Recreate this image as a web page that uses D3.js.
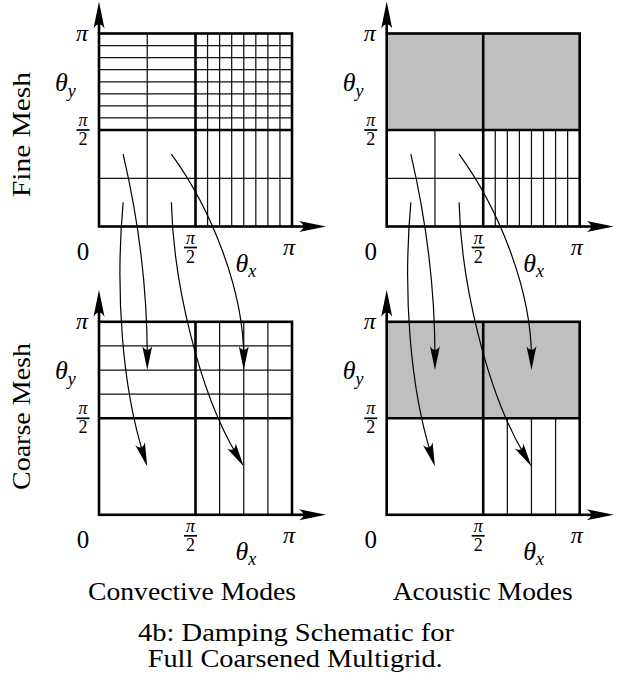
<!DOCTYPE html>
<html>
<head>
<meta charset="utf-8">
<script src="https://cdn.jsdelivr.net/npm/d3@7"></script>
<style>
  body { margin: 0; background: #fff; }
</style>
</head>
<body>
<svg id="fig" width="621" height="683"></svg>
<script>
// Mesh lines, in units of pi
const halfLine = [0.5];
const quarterLines = [0.25];
const fineLines = [0.5625, 0.625, 0.6875, 0.75, 0.8125, 0.875, 0.9375];
const coarseLines = [0.625, 0.75, 0.875];

const columnTitles = ["Convective Modes", "Acoustic Modes"];
const rowTitles = ["Fine Mesh", "Coarse Mesh"];
const captionLines = ["4b: Damping Schematic for", "Full Coarsened Multigrid."];

// A fine-mesh mode (θx/π, θy/π) is seen on the coarse mesh at twice the frequency
const modeFrom = [[0.125, 0.375], [0.125, 0.125], [0.375, 0.125], [0.375, 0.375]];
const modeTo   = [[0.25, 0.75],   [0.25, 0.25],   [0.75, 0.25],   [0.75, 0.75]];
// Bezier handles (px) leaving the start and entering the end of each arrow
const handleStart = [[14, 60], [-8, 90], [2, 80], [40, 55]];
const handleEnd   = [[0, -90], [-25, -80], [-45, -75], [0, -80]];

// Layout
const size = 193;
const colLeft = [99, 386.7];
const rowTop = [33.5, 321.8];
const thick = 2.6, thin = 1.25;
const FONT = "'Liberation Serif', serif";

const svg = d3.select("#fig");

function panelScales(r, c) {
  const L = colLeft[c], T = rowTop[r];
  return {
    x: d3.scaleLinear().domain([0, 1]).range([L, L + size]),
    y: d3.scaleLinear().domain([0, 1]).range([T + size, T])
  };
}

function label(g, x, y, size, str, italic) {
  return g.append("text").attr("x", x).attr("y", y)
    .attr("font-family", FONT).attr("font-size", size)
    .attr("font-style", italic ? "italic" : "normal")
    .attr("fill", "#000").text(str);
}

function arrowHead(g, tipX, tipY, angle, len, half) {
  const p = `M0,0 L${-len},${-half} Q${-len * 0.68},0 ${-len},${half} Z`;
  g.append("path")
    .attr("d", p)
    .attr("transform", `translate(${tipX},${tipY}) rotate(${angle * 180 / Math.PI})`)
    .attr("fill", "#000");
}

function fraction(g, cx, barY) {
  label(g, cx, barY - 4, 18, "π", true).attr("text-anchor", "middle");
  g.append("line").attr("x1", cx - 6.5).attr("x2", cx + 6.5)
    .attr("y1", barY).attr("y2", barY).attr("stroke", "#000").attr("stroke-width", 1.7);
  label(g, cx, barY + 15, 18, "2", false).attr("text-anchor", "middle");
}

function drawPanel(r, c) {
  const { x, y } = panelScales(r, c);
  const g = svg.append("g");
  const acoustic = c === 1;
  const fine = r === 0;

  // thin mesh lines
  const hLines = fine ? fineLines.concat(quarterLines) : coarseLines;
  const vLines = fine ? fineLines.concat(quarterLines) : coarseLines;
  g.selectAll(null).data(hLines).join("line")
    .attr("x1", x(0)).attr("x2", x(1))
    .attr("y1", d => y(d)).attr("y2", d => y(d))
    .attr("stroke", "#111").attr("stroke-width", thin);
  g.selectAll(null).data(vLines).join("line")
    .attr("y1", y(0)).attr("y2", y(1))
    .attr("x1", d => x(d)).attr("x2", d => x(d))
    .attr("stroke", "#111").attr("stroke-width", thin);

  // high θy half is damped for acoustic modes
  if (acoustic) {
    g.append("rect")
      .attr("x", x(0)).attr("y", y(1))
      .attr("width", x(1) - x(0)).attr("height", y(0.5) - y(1))
      .attr("fill", "#bfbfbf");
  }

  // frame and half lines
  g.append("rect")
    .attr("x", x(0)).attr("y", y(1))
    .attr("width", x(1) - x(0)).attr("height", y(0) - y(1))
    .attr("fill", "none").attr("stroke", "#000").attr("stroke-width", thick);
  g.selectAll(null).data(halfLine).join("line")
    .attr("x1", x(0)).attr("x2", x(1)).attr("y1", d => y(d)).attr("y2", d => y(d))
    .attr("stroke", "#000").attr("stroke-width", thick);
  g.selectAll(null).data(halfLine).join("line")
    .attr("y1", y(0)).attr("y2", y(1)).attr("x1", d => x(d)).attr("x2", d => x(d))
    .attr("stroke", "#000").attr("stroke-width", thick);

  // axes with arrowheads
  const yTip = y(1) - 32, xTip = x(1) + 34;
  g.append("line").attr("x1", x(0)).attr("x2", x(0)).attr("y1", y(1)).attr("y2", yTip + 10)
    .attr("stroke", "#000").attr("stroke-width", thick);
  g.append("line").attr("x1", x(1)).attr("x2", xTip - 10).attr("y1", y(0)).attr("y2", y(0))
    .attr("stroke", "#000").attr("stroke-width", thick);
  arrowHead(g, x(0), yTip, -Math.PI / 2, 27, 5.5);
  arrowHead(g, xTip, y(0), 0, 27, 5.5);

  // tick labels
  const L = x(0), B = y(0);
  label(g, L - 17, y(1) + 7, 24, "π", true).attr("text-anchor", "middle");
  fraction(g, L - 16, y(0.5));
  label(g, L - 16, B + 33, 25, "0", false).attr("text-anchor", "middle");
  fraction(g, x(0.5) - 5, B + 21);
  label(g, x(1) - 3, B + 28, 24, "π", true).attr("text-anchor", "middle");

  // axis names
  const ty = label(g, L - 44, y(1) + 57, 26, "", true);
  ty.append("tspan").text("θ");
  ty.append("tspan").attr("font-size", 18).attr("dy", 6).text("y");
  const tx = label(g, x(0.5) + 40, B + 45, 26, "", true);
  tx.append("tspan").text("θ");
  tx.append("tspan").attr("font-size", 18).attr("dy", 5).text("x");
}

for (let r = 0; r < 2; r++) for (let c = 0; c < 2; c++) drawPanel(r, c);

// Arrows carrying each fine-mesh mode to its coarse-mesh image
for (let c = 0; c < 2; c++) {
  const fineS = panelScales(0, c), coarseS = panelScales(1, c);
  const g = svg.append("g");
  modeFrom.forEach((m, i) => {
    const p0 = [fineS.x(m[0]), fineS.y(m[1])];
    const p3 = [coarseS.x(modeTo[i][0]), coarseS.y(modeTo[i][1])];
    const p1 = [p0[0] + handleStart[i][0], p0[1] + handleStart[i][1]];
    const p2 = [p3[0] + handleEnd[i][0], p3[1] + handleEnd[i][1]];
    const path = d3.path();
    path.moveTo(p0[0], p0[1]);
    path.bezierCurveTo(p1[0], p1[1], p2[0], p2[1],
      p3[0] - (p3[0] - p2[0]) * 0.15, p3[1] - (p3[1] - p2[1]) * 0.15);
    g.append("path").attr("d", path.toString())
      .attr("fill", "none").attr("stroke", "#000").attr("stroke-width", 1.2);
    const ang = Math.atan2(p3[1] - p2[1], p3[0] - p2[0]);
    arrowHead(g, p3[0], p3[1], ang, 24, 5);
  });
}

// Row titles
const rowCenter = [134.5, 416.5], rowLen = [125, 147];
rowTitles.forEach((t, r) => {
  label(svg, 0, 0, 25, t, false)
    .attr("transform", `translate(30,${rowCenter[r]}) rotate(-90)`)
    .attr("text-anchor", "middle")
    .attr("textLength", rowLen[r]).attr("lengthAdjust", "spacingAndGlyphs");
});

// Column titles
const colTitleX = [88, 392.7], colTitleW = [208, 180];
columnTitles.forEach((t, c) => {
  label(svg, colTitleX[c], 600, 25, t, false)
    .attr("textLength", colTitleW[c]).attr("lengthAdjust", "spacingAndGlyphs");
});

// Caption
const capX = [138, 147.7], capY = [641, 667], capW = [316, 295];
captionLines.forEach((t, i) => {
  label(svg, capX[i], capY[i], 25, t, false)
    .attr("textLength", capW[i]).attr("lengthAdjust", "spacingAndGlyphs");
});
</script>
</body>
</html>
